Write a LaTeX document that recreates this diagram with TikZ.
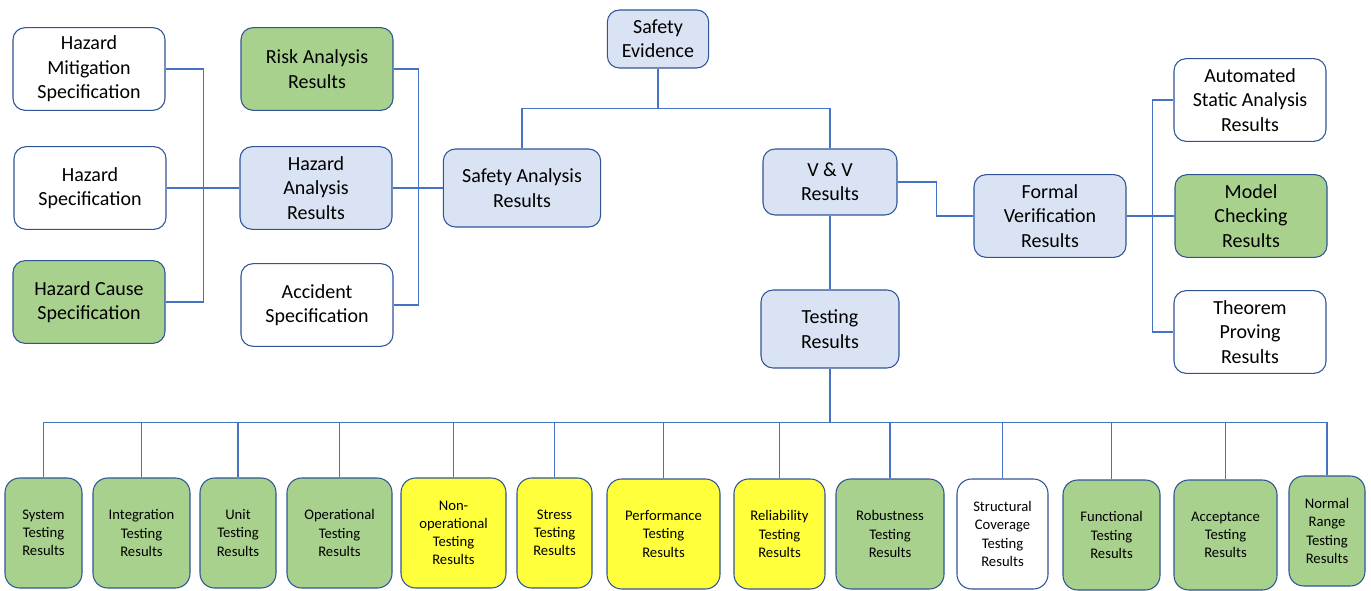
\documentclass[tikz,border=0pt]{standalone}
\usepackage{fontspec}
\setmainfont{Carlito}
\definecolor{boxblue}{HTML}{DAE3F3}
\definecolor{boxgreen}{HTML}{A9D18E}
\definecolor{boxyellow}{HTML}{FFFF3B}
\definecolor{edge}{HTML}{2F5597}
\definecolor{wirecol}{HTML}{4472C4}
\tikzset{
  box/.style={draw=edge, line width=0.8pt, rounded corners=9pt, align=center, inner sep=1pt,
    font=\fontsize{15}{18.3}\selectfont, minimum width=114pt, minimum height=62pt},
  smallbox/.style={box, rounded corners=11pt, font=\fontsize{11}{13.6}\selectfont, minimum height=82.5pt},
  wire/.style={draw=wirecol, line width=0.8pt}
}
\begin{document}
\begin{tikzpicture}[x=0.75pt, y=-0.75pt]
  \useasboundingbox (0,0) rectangle (1371,591);

  \node[box, fill=boxblue, minimum width=76pt, minimum height=43.5pt] (se) at (658,39) {Safety\\Evidence};
  \node[box, fill=white] (hms) at (89,69) {Hazard\\Mitigation\\Specification};
  \node[box, fill=white] (hs) at (90,188) {Hazard\\Specification};
  \node[box, fill=boxgreen] (hcs) at (89,302) {Hazard Cause\\Specification};
  \node[box, fill=boxgreen] (ra) at (317,69) {Risk Analysis\\Results};
  \node[box, fill=boxblue] (ha) at (316,188) {Hazard\\Analysis\\Results};
  \node[box, fill=white] (as) at (317,305) {Accident\\Specification};
  \node[box, fill=boxblue, minimum width=118pt, minimum height=58.5pt] (sa) at (522,188) {Safety Analysis\\Results};
  \node[box, fill=boxblue, minimum width=100.5pt, minimum height=49.5pt] (vv) at (830,182) {V \& V\\Results};
  \node[box, fill=boxblue] (fv) at (1050,216) {Formal\\Verification\\Results};
  \node[box, fill=white] (asa) at (1250,100) {Automated\\Static Analysis\\Results};
  \node[box, fill=boxgreen] (mc) at (1251,216) {Model\\Checking\\Results};
  \node[box, fill=white] (tp) at (1250,332) {Theorem\\Proving\\Results};
  \node[box, fill=boxblue, minimum width=103.5pt, minimum height=58.5pt] (tr) at (830,329) {Testing\\Results};

  \foreach \n/\x/\y/\w/\c/\t in {
      sys/43.5/533/77/boxgreen/{System\\Testing\\Results},
      int/141.5/533/97/boxgreen/{Integration\\Testing\\Results},
      unit/238/533/76/boxgreen/{Unit\\Testing\\Results},
      ops/339.5/533/105/boxgreen/{Operational\\Testing\\Results},
      nonop/453.5/533/105/boxyellow/{Non-\\operational\\Testing\\Results},
      str/554.5/533/75/boxyellow/{Stress\\Testing\\Results},
      perf/663.5/534/113/boxyellow/{Performance\\Testing\\Results},
      rel/779.5/534/91/boxyellow/{Reliability\\Testing\\Results},
      rob/890/534/108/boxgreen/{Robustness\\Testing\\Results},
      sct/1002.5/534/91/white/{Structural\\Coverage\\Testing\\Results},
      fun/1111.5/535/97/boxgreen/{Functional\\Testing\\Results},
      acc/1225.5/535/103/boxgreen/{Acceptance\\Testing\\Results},
      nrt/1327/531/76/boxgreen/{Normal\\Range\\Testing\\Results}}
    \node[smallbox, fill=\c, minimum width=\w*0.75pt] (\n) at (\x,\y) {\t};

  \draw[wire] (hms.east) -- ++(38,0) |- (hcs.east);
  \draw[wire] (hs.east) -- (ha.west);
  \draw[wire] (ra.east) -- ++(25,0) |- (as.east);
  \draw[wire] (ha.east) -- (sa.west);
  \draw[wire] (se.south) -- ++(0,40) coordinate (sej);
  \draw[wire] (sej) -| (sa.north);
  \draw[wire] (sej) -| (vv.north);
  \draw[wire] (vv.east) -- ++(39,0) |- (fv.west);
  \draw[wire] (fv.east) -- (mc.west);
  \draw[wire] (asa.west) -- ++(-21,0) |- (tp.west);
  \draw[wire] (vv.south) -- (tr.north);
  \draw[wire] (tr.south) -- ++(0,54) coordinate (trj);
  \foreach \n in {sys,int,unit,ops,nonop,str,perf,rel,rob,sct,fun,acc,nrt}
    \draw[wire] (trj) -| (\n.north);
\end{tikzpicture}
\end{document}
